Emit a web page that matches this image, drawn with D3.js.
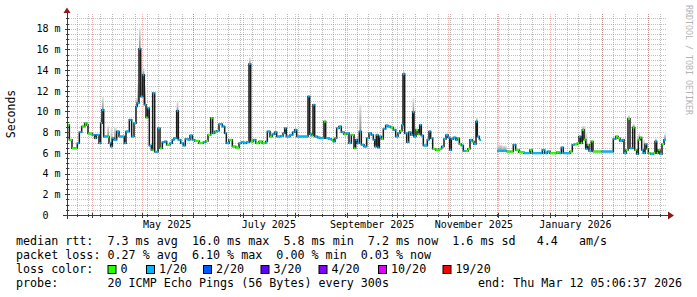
<!DOCTYPE html>
<html>
<head>
<meta charset="utf-8">
<script src="https://cdn.jsdelivr.net/npm/d3@7"></script>
<style>
body { margin: 0; background: #fff; }
text { font-family: "DejaVu Sans Mono", monospace; white-space: pre; }
</style>
</head>
<body>
<div id="chart"></div>
<script>
// day offsets from graph start, median rtt (ms), loss bucket index
var days = [0.2,1.4,3.0,6.2,7.4,8.8,10.6,11.8,12.6,15.2,16.6,17.6,19.2,20.2,21.0,22.0,24.2,25.2,26.2,27.2,28.2,29.8,31.2,34.4,35.4,37.4,38.8,40.2,41.4,42.2,43.2,44.2,45.4,46.4,47.4,48.4,49.4,50.6,51.4,52.6,54.6,55.8,57.2,58.6,59.8,61.8,63.2,64.2,65.8,66.8,68.2,69.8,71.0,72.6,73.8,75.2,76.6,79.2,81.8,83.2,84.6,86.2,87.4,88.6,
  89.8,91.2,93.2,94.6,95.6,97.2,99.2,101.2,103.2,104.6,106.2,107.6,109.2,110.2,111.8,113.2,115.2,117.2,119.2,120.2,121.8,123.2,124.6,125.8,128.2,129.6,130.6,131.6,133.8,135.4,136.6,137.8,144.6,145.6,146.6,147.6,148.6,150.2,151.8,154.2,155.2,157.2,158.6,159.8,160.8,161.8,163.2,164.6,166.2,167.8,169.2,170.6,172.2,173.2,174.2,175.4,176.6,178.2,
  179.8,181.2,182.6,183.8,184.6,185.6,186.6,187.4,188.6,189.8,191.2,192.6,194.2,195.8,197.2,198.6,199.8,201.0,201.6,202.6,203.8,205.0,206.2,207.4,208.2,209.4,210.6,211.6,212.6,213.8,216.2,217.2,218.2,219.4,221.2,223.2,224.8,226.2,227.4,228.6,229.6,230.6,231.8,233.2,234.2,235.4,236.6,237.8,239.2,240.6,241.8,243.2,244.2,245.4,246.2,247.4,248.4,
  258.2,261.2,263.8,266.2,267.8,269.2,271.2,274.2,277.8,279.2,285.2,286.6,288.2,289.8,293.8,295.2,296.6,297.8,301.8,303.2,304.6,306.2,307.2,308.2,309.2,310.2,311.2,312.2,313.2,314.6,315.6,320.6,327.8,329.2,330.6,331.8,333.2,334.2,335.4,336.6,337.8,339.4,340.6,341.8,342.8,343.8,344.8,345.8,346.8,347.8,348.8,350.2,351.8,352.8,353.8,354.8,355.8,357.0,358.2,359.4];
var median = [8.7,7.26,6.45,6.94,8.0,8.55,8.87,8.7,7.87,7.74,7.42,7.74,6.94,8.87,10.16,7.58,7.58,6.94,6.61,7.42,7.26,8.07,7.58,6.94,8.07,9.2,7.58,8.87,10.49,10.81,16.07,11.45,13.55,10.65,9.42,10.32,6.71,6.29,11.78,6.1,8.39,6.45,7.04,7.1,6.78,6.94,7.26,7.42,10.07,7.26,6.94,6.71,7.35,7.26,7.68,7.26,7.16,6.94,7.04,7.16,7.74,9.36,7.9,8.07,
  8.13,8.78,8.55,7.9,6.94,7.26,6.61,6.52,6.94,7.04,6.94,7.04,14.59,7.1,7.26,6.94,7.1,6.94,7.1,8.07,7.58,7.8,8.0,7.58,7.64,7.9,8.39,7.58,7.74,8.0,8.23,7.58,11.45,7.8,7.68,10.65,7.58,7.48,7.42,9.03,7.42,7.35,7.26,7.1,7.42,8.39,8.55,8.0,7.8,7.9,6.94,7.74,6.45,7.26,6.94,8.07,6.78,6.61,
  7.42,7.9,7.74,7.26,6.61,7.74,6.52,7.58,7.35,8.32,8.65,8.55,8.45,8.23,7.58,7.9,8.13,8.7,13.62,7.9,7.04,8.0,7.74,9.94,7.58,8.23,7.8,8.7,7.68,6.71,7.26,8.07,7.42,6.39,6.29,6.39,6.61,7.35,7.74,7.48,6.29,7.35,7.48,7.26,7.42,6.87,6.71,6.19,6.19,6.39,7.26,7.1,6.87,9.03,7.58,7.26,null,
  6.19,6.19,6.13,6.13,6.78,6.29,6.07,5.97,6.29,5.97,6.29,5.97,6.13,5.97,6.07,5.97,6.52,5.97,6.13,6.78,6.84,6.94,7.58,6.94,8.23,7.26,6.39,6.78,6.19,7.1,6.13,6.13,7.35,7.58,7.42,7.16,7.26,5.97,6.29,9.29,6.45,8.45,6.29,5.9,7.26,7.48,6.29,5.97,6.84,6.39,5.97,5.9,5.97,7.1,5.97,6.29,5.9,6.84,7.26,7.26];
var loss = [0,0,0,1,1,0,0,0,0,1,1,1,1,1,1,1,0,1,1,1,1,1,1,1,1,1,1,1,1,1,1,1,1,1,0,1,1,0,1,1,1,0,1,1,0,1,1,1,1,1,1,1,1,1,1,1,0,0,1,0,0,0,1,0,
  1,1,1,1,1,0,0,0,1,1,1,1,1,0,1,0,0,0,1,1,0,1,1,1,1,1,1,1,1,1,1,1,1,1,0,1,1,1,1,0,1,1,0,1,1,1,1,1,0,1,1,0,0,1,1,1,1,1,
  1,1,1,1,1,1,1,1,0,1,1,1,0,1,1,1,0,1,1,1,1,1,1,1,1,0,0,1,1,1,1,1,1,0,0,0,1,1,1,1,1,1,1,1,0,0,1,1,0,0,1,0,1,1,1,1,1,
  1,1,0,0,1,0,0,1,0,1,1,1,1,0,0,1,1,1,0,1,0,0,1,0,0,0,1,0,1,0,0,1,1,0,0,1,1,1,0,0,1,0,0,1,0,0,1,1,1,0,0,1,0,1,0,0,1,0,1,1];

// smoke (max of the pings) where it shows above the median
var smokeDays = [20.2,21.0,24.2,26.2,28.2,41.4,42.2,43.2,44.2,45.4,46.4,65.8,109.2,175.4,201.6,207.4,245.4,258.2,261.2,309.2,310.2,311.2,336.6,339.4,342.8,345.8,352.8,358.2];
var smokeTop = [9.8,11.4,8.6,8.4,8.5,11.3,12.8,18.1,14.3,14.2,12.4,10.9,15.2,10.65,13.9,11.3,9.4,6.8,6.7,8.6,8.6,7.9,9.6,8.8,7.9,7.3,7.4,7.8];

var yTicks = [0,2,4,6,8,10,12,14,16,18];
var xLabels = ["May 2025","July 2025","September 2025","November 2025","January 2026"];
var xLabelMonths = ["2025-05-01","2025-07-01","2025-09-01","2025-11-01","2026-01-01"];

var lossLabels = ["0","1/20","2/20","3/20","4/20","10/20","19/20"];
var lossColors = ["#26ff00","#00b8ff","#0059ff","#5e00ff","#7e00ff","#dd00ff","#ff0000"];

var legendLines = [
  "median rtt:  7.3 ms avg  16.0 ms max  5.8 ms min  7.2 ms now  1.6 ms sd   4.4   am/s",
  "packet loss: 0.27 % avg  6.10 % max  0.00 % min  0.03 % now",
  "loss color:",
  "probe:       20 ICMP Echo Pings (56 Bytes) every 300s"
];
var endLabel = "end: Thu Mar 12 05:06:37 2026";

var W = 697, H = 297;
var plotL = 67, plotR = 667, plotT = 14, plotB = 215;

var endTime = new Date(Date.UTC(2026, 2, 12, 5, 6, 37));
var startTime = new Date(endTime.getTime() - 360 * 864e5);
function dayDate(d) { return new Date(startTime.getTime() + d * 864e5); }

var x = d3.scaleUtc().domain([startTime, endTime]).range([plotL, plotR]);
var y = d3.scaleLinear().domain([0, 19.42]).range([plotB, plotT]);
function crisp(v) { return Math.round(v) + 0.5; }

var svg = d3.select("#chart").append("svg")
  .attr("width", W).attr("height", H)
  .style("display", "block");

svg.append("rect").attr("width", W).attr("height", H).attr("fill", "#fff");

// grid
var grid = svg.append("g").attr("stroke-dasharray", "1,1").attr("stroke-width", 1).attr("fill", "none");
var minorY = d3.range(0.5, 19.42, 0.5).filter(function(v) { return v % 2 !== 0; });
grid.selectAll(".hmin").data(minorY).enter().append("line")
  .attr("x1", plotL).attr("x2", plotR)
  .attr("y1", function(d) { return crisp(y(d)); }).attr("y2", function(d) { return crisp(y(d)); })
  .attr("stroke", "rgba(140,140,140,0.55)");
var weeks = d3.utcSunday.range(startTime, endTime);
grid.selectAll(".vmin").data(weeks).enter().append("line")
  .attr("y1", plotT).attr("y2", plotB)
  .attr("x1", function(d) { return crisp(x(d)); }).attr("x2", function(d) { return crisp(x(d)); })
  .attr("stroke", "rgba(140,140,140,0.6)");
grid.selectAll(".hmaj").data(yTicks.slice(1)).enter().append("line")
  .attr("x1", plotL).attr("x2", plotR)
  .attr("y1", function(d) { return crisp(y(d)); }).attr("y2", function(d) { return crisp(y(d)); })
  .attr("stroke", "rgba(200,70,70,0.4)");
var months = d3.utcMonth.range(d3.utcMonth.ceil(startTime), endTime);
grid.selectAll(".vmaj").data(months).enter().append("line")
  .attr("y1", plotT).attr("y2", plotB)
  .attr("x1", function(d) { return crisp(x(d)); }).attr("x2", function(d) { return crisp(x(d)); })
  .attr("stroke", "rgba(200,70,70,0.4)");

// smoke
var grad = svg.append("defs").append("linearGradient")
  .attr("id", "smoke").attr("x1", 0).attr("x2", 0).attr("y1", 0).attr("y2", 1);
grad.append("stop").attr("offset", "0%").attr("stop-color", "#e6e6e6");
grad.append("stop").attr("offset", "100%").attr("stop-color", "#8c8c8c");

smokeDays.forEach(function(d, k) {
  var i = days.indexOf(d);
  if (i < 0 || median[i] == null) return;
  var x0 = x(dayDate(days[i])), x1 = x(dayDate(days[i + 1]));
  svg.append("rect")
    .attr("x", x0).attr("width", Math.max(1.5, x1 - x0))
    .attr("y", y(smokeTop[k])).attr("height", y(median[i]) - y(smokeTop[k]))
    .attr("fill", "url(#smoke)");
});

// median: black steps, coloured by loss
var pts = days.map(function(d, i) { return {d: d, v: median[i], l: loss[i]}; });
var line = d3.line()
  .defined(function(p) { return p.v != null; })
  .curve(d3.curveStepAfter)
  .x(function(p) { return x(dayDate(p.d)); })
  .y(function(p) { return y(p.v); });
svg.append("path").datum(pts)
  .attr("d", line)
  .attr("fill", "none")
  .attr("stroke", "#1a1a1a")
  .attr("stroke-width", 1.5);

pts.forEach(function(p, i) {
  if (p.v == null || i === pts.length - 1) return;
  svg.append("line")
    .attr("x1", x(dayDate(p.d))).attr("x2", x(dayDate(pts[i + 1].d)))
    .attr("y1", y(p.v)).attr("y2", y(p.v))
    .attr("stroke", lossColors[p.l])
    .attr("stroke-width", 2.2);
});

// axes lines, ticks, arrows
var ax = svg.append("g").attr("stroke", "#3a3a3a").attr("stroke-width", 1);
ax.append("line").attr("x1", 63).attr("x2", 669).attr("y1", plotB + 0.5).attr("y2", plotB + 0.5);
ax.append("line").attr("x1", plotL + 0.5).attr("x2", plotL + 0.5).attr("y1", 219).attr("y2", 11);
ax.selectAll(".xt").data(weeks).enter().append("line")
  .attr("x1", function(d) { return crisp(x(d)); }).attr("x2", function(d) { return crisp(x(d)); })
  .attr("y1", plotB - 1).attr("y2", plotB + 2);
ax.selectAll(".xT").data(months).enter().append("line")
  .attr("x1", function(d) { return crisp(x(d)); }).attr("x2", function(d) { return crisp(x(d)); })
  .attr("y1", plotB - 2).attr("y2", plotB + 3);
ax.selectAll(".yt").data(minorY).enter().append("line")
  .attr("y1", function(d) { return crisp(y(d)); }).attr("y2", function(d) { return crisp(y(d)); })
  .attr("x1", plotL - 1).attr("x2", plotL + 2);
ax.selectAll(".yT").data(yTicks.slice(1)).enter().append("line")
  .attr("y1", function(d) { return crisp(y(d)); }).attr("y2", function(d) { return crisp(y(d)); })
  .attr("x1", plotL - 2).attr("x2", plotL + 3);
svg.append("path").attr("d", "M63.5,13L70.5,13L67,7.5Z").attr("fill", "#8b1a1a");
svg.append("path").attr("d", "M668,211.5L668,219.5L674,215.5Z").attr("fill", "#8b1a1a");

// tick labels via d3 axes
var yAxis = svg.append("g")
  .attr("transform", "translate(" + plotL + ",0)")
  .call(d3.axisLeft(y).tickValues(yTicks).tickSize(0).tickPadding(6.5)
    .tickFormat(function(v) { return v ? v + " m" : "0  "; }));
yAxis.select(".domain").remove();
yAxis.selectAll("text").attr("font-family", "DejaVu Sans Mono").attr("font-size", "10px").attr("fill", "#000");

var labelDates = xLabelMonths.map(function(s) { return d3.utcDay.offset(new Date(s + "T00:00:00Z"), 15); });
var xAxis = svg.append("g")
  .attr("transform", "translate(0," + plotB + ")")
  .call(d3.axisBottom(x).tickValues(labelDates).tickSize(0).tickPadding(6)
    .tickFormat(function(d, i) { return xLabels[i]; }));
xAxis.select(".domain").remove();
xAxis.selectAll("text").attr("font-family", "DejaVu Sans Mono").attr("font-size", "10px").attr("fill", "#000");

// axis title
svg.append("text")
  .attr("transform", "translate(14.5,114) rotate(-90)")
  .attr("text-anchor", "middle")
  .style("font-size", "11.5px")
  .text("Seconds");

// watermark
svg.append("text")
  .attr("transform", "translate(685.5,5) rotate(90)")
  .style("font-size", "8.3px")
  .attr("fill", "#b4b4b4")
  .text("RRDTOOL / TOBI OETIKER");

// legend
var lineY = [241, 255, 269, 283];
legendLines.forEach(function(s, i) {
  svg.append("text")
    .attr("x", 16).attr("y", lineY[i])
    .attr("dominant-baseline", "central")
    .style("font-size", "11.7px")
    .text(s);
});
svg.append("text")
  .attr("x", 478).attr("y", lineY[3])
  .attr("dominant-baseline", "central")
  .style("font-size", "11.7px")
  .text(endLabel);

var boxX = [107.5, 146, 203, 260.5, 318.5, 378, 442.5];
lossLabels.forEach(function(l, i) {
  svg.append("rect")
    .attr("x", boxX[i] + 0.5).attr("y", 265.5)
    .attr("width", 8).attr("height", 8)
    .attr("fill", lossColors[i]).attr("stroke", "#000");
  svg.append("text")
    .attr("x", boxX[i] + 13).attr("y", lineY[2])
    .attr("dominant-baseline", "central")
    .style("font-size", "11.7px")
    .text(l);
});
</script>
</body>
</html>
